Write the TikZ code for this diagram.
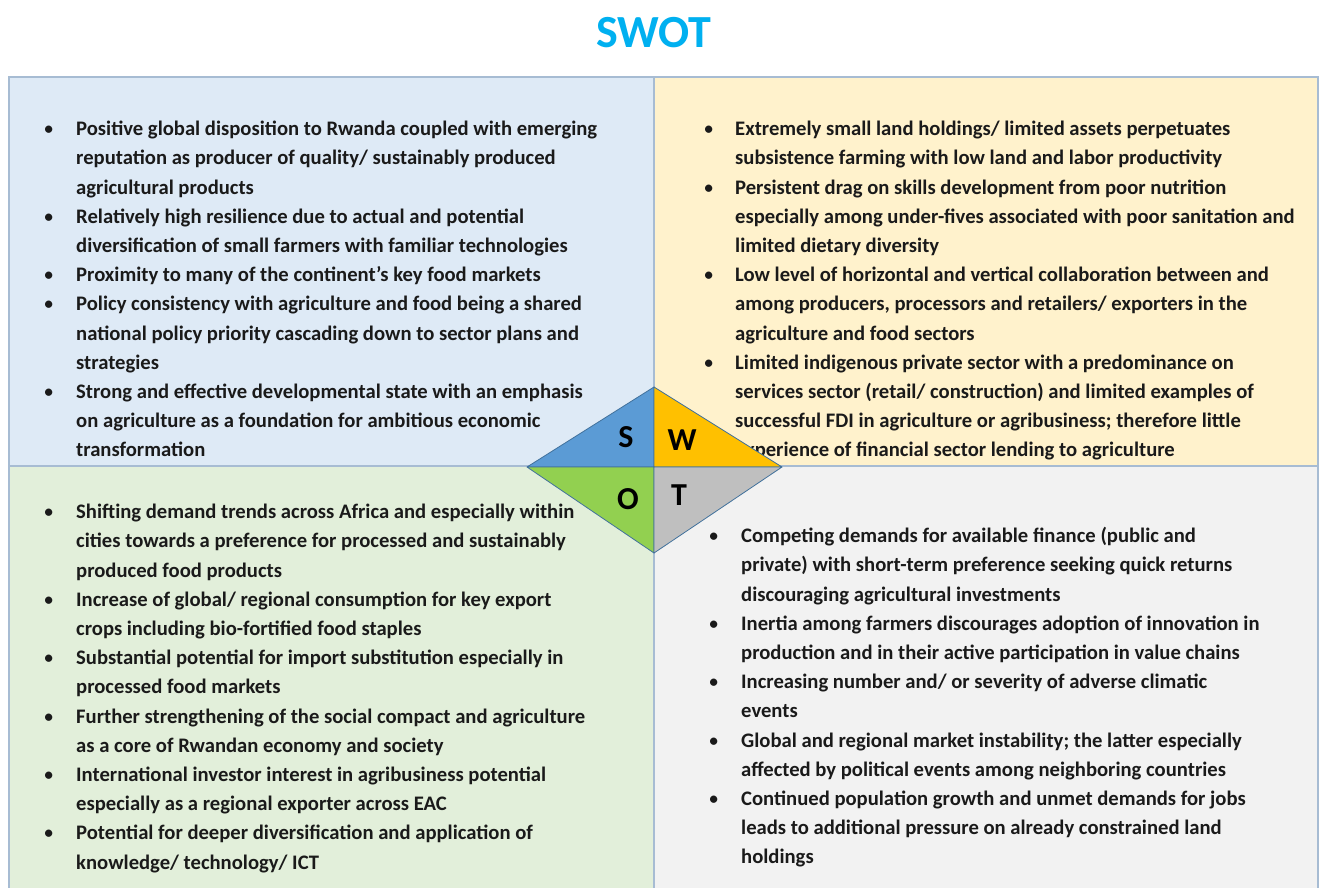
\documentclass[tikz,border=0pt]{standalone}
\usepackage{fontspec}
\setmainfont{Carlito}
\usepackage{array}
\definecolor{sbg}{HTML}{DEEAF6}
\definecolor{wbg}{HTML}{FFF2CC}
\definecolor{obg}{HTML}{E2EFDA}
\definecolor{tbg}{HTML}{F2F2F2}
\definecolor{gridc}{HTML}{A7BCD3}
\definecolor{sfill}{HTML}{5B9BD5}
\definecolor{wfill}{HTML}{FFC000}
\definecolor{ofill}{HTML}{92D050}
\definecolor{tfill}{HTML}{BFBFBF}
\definecolor{dline}{HTML}{41719C}
\definecolor{titlec}{HTML}{00B0F0}
\definecolor{txt}{HTML}{1A1A1A}
\newcommand{\bul}[1]{\makebox[#1][l]{\mdseries\textbullet}}
\begin{document}
\begin{tikzpicture}[x=1pt,y=-1pt,
  panel/.style={anchor=north west, inner sep=0pt, text=txt, font=\bfseries\fontsize{20.65}{29.2}\selectfont},
  letter/.style={inner sep=0pt, font=\bfseries\fontsize{32}{32}\selectfont, text=black},
  tri/.style={draw=dline, line width=0.8pt, line join=round}]
\useasboundingbox (0,0) rectangle (1323,888);
\fill[white] (0,0) rectangle (1323,888);
% panels
\fill[sbg] (9,77) rectangle (654,466);
\fill[wbg] (654,77) rectangle (1318,466);
\fill[obg] (9,466) rectangle (654,888);
\fill[tbg] (654,466) rectangle (1318,888);
\draw[gridc, line width=1.5pt] (9,888) -- (9,77) -- (1318,77) -- (1318,888);
\draw[gridc, line width=1.5pt] (654,77) -- (654,888);
\draw[gridc, line width=1.5pt] (9,466) -- (1318,466);
% title
\node[font=\bfseries\fontsize{46}{46}\selectfont, text=titlec] (title) at (654,33) {SWOT};
% S text
\node[panel] (stext) at (43.5,115.1) {\begin{tabular}{@{}l@{}l@{}}
\bul{32.5pt} & Positive global disposition to Rwanda coupled with emerging\\
 & reputation as producer of quality/ sustainably produced\\
 & agricultural products\\
\bul{32.5pt} & Relatively high resilience due to actual and potential\\
 & diversification of small farmers with familiar technologies\\
\bul{32.5pt} & Proximity to many of the continent’s key food markets\\
\bul{32.5pt} & Policy consistency with agriculture and food being a shared\\
 & national policy priority cascading down to sector plans and\\
 & strategies\\
\bul{32.5pt} & Strong and effective developmental state with an emphasis\\
 & on agriculture as a foundation for ambitious economic\\
 & transformation
\end{tabular}};
% W text
\node[panel] (wtext) at (703.5,115.1) {\begin{tabular}{@{}l@{}l@{}}
\bul{31.5pt} & Extremely small land holdings/ limited assets perpetuates\\
 & subsistence farming with low land and labor productivity\\
\bul{31.5pt} & Persistent drag on skills development from poor nutrition\\
 & especially among under-fives associated with poor sanitation and\\
 & limited dietary diversity\\
\bul{31.5pt} & Low level of horizontal and vertical collaboration between and\\
 & among producers, processors and retailers/ exporters in the\\
 & agriculture and food sectors\\
\bul{31.5pt} & Limited indigenous private sector with a predominance on\\
 & services sector (retail/ construction) and limited examples of\\
 & successful FDI in agriculture or agribusiness; therefore little\\
 & experience of financial sector lending to agriculture
\end{tabular}};
% O text
\node[panel] (otext) at (43.5,498.1) {\begin{tabular}{@{}l@{}l@{}}
\bul{32.5pt} & Shifting demand trends across Africa and especially within\\
 & cities towards a preference for processed and sustainably\\
 & produced food products\\
\bul{32.5pt} & Increase of global/ regional consumption for key export\\
 & crops including bio-fortified food staples\\
\bul{32.5pt} & Substantial potential for import substitution especially in\\
 & processed food markets\\
\bul{32.5pt} & Further strengthening of the social compact and agriculture\\
 & as a core of Rwandan economy and society\\
\bul{32.5pt} & International investor interest in agribusiness potential\\
 & especially as a regional exporter across EAC\\
\bul{32.5pt} & Potential for deeper diversification and application of\\
 & knowledge/ technology/ ICT
\end{tabular}};
% T text
\node[panel] (ttext) at (708.5,522.1) {\begin{tabular}{@{}l@{}l@{}}
\bul{32.5pt} & Competing demands for available finance (public and\\
 & private) with short-term preference seeking quick returns\\
 & discouraging agricultural investments\\
\bul{32.5pt} & Inertia among farmers discourages adoption of innovation in\\
 & production and in their active participation in value chains\\
\bul{32.5pt} & Increasing number and/ or severity of adverse climatic\\
 & events\\
\bul{32.5pt} & Global and regional market instability; the latter especially\\
 & affected by political events among neighboring countries\\
\bul{32.5pt} & Continued population growth and unmet demands for jobs\\
 & leads to additional pressure on already constrained land\\
 & holdings
\end{tabular}};
% diamond
\coordinate (dl) at (527,467);
\coordinate (dt) at (654,387);
\coordinate (dr) at (782,467);
\coordinate (db) at (654,553);
\coordinate (dc) at (654,467);
\filldraw[tri, fill=sfill] (dl) -- (dt) -- (dc) -- cycle;
\filldraw[tri, fill=wfill] (dt) -- (dr) -- (dc) -- cycle;
\filldraw[tri, fill=ofill] (dl) -- (dc) -- (db) -- cycle;
\filldraw[tri, fill=tfill] (dc) -- (dr) -- (db) -- cycle;
\node[letter] (ls) at (626,437) {S};
\node[letter] (lw) at (682,440) {W};
\node[letter] (lo) at (628,499) {O};
\node[letter] (lt) at (679,495) {T};
\end{tikzpicture}
\end{document}
